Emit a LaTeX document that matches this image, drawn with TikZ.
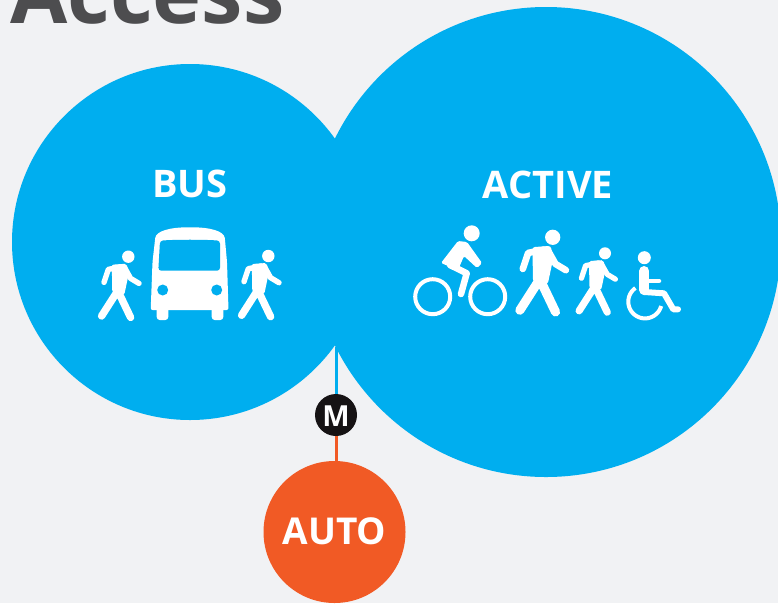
\documentclass[tikz,border=0pt]{standalone}
\usepackage{fontspec}
\setmainfont{Open Sans}
\definecolor{bgc}{HTML}{F1F2F4}
\definecolor{skyc}{HTML}{00AEEF}
\definecolor{autoc}{HTML}{F15A25}
\definecolor{titlec}{HTML}{4D4D4F}
\definecolor{metroc}{HTML}{161314}
\tikzset{
  disc/.style={circle,inner sep=0pt,outer sep=0pt,draw=none},
  label/.style={text=white,anchor=base,inner sep=0pt,font=\bfseries\fontsize{38}{38}\selectfont},
  icon/.style={draw=white,line cap=round,line join=round}
}
\newcommand{\walker}[3]{%
\begin{scope}[shift={(#1,#2)},scale=#3]
  \fill[white] (0,0) circle (6.2);
  \draw[icon,line width=#3*5.4pt] (-6.7,10) -- (-20,12.7) -- (-24.3,25.7);
  \draw[icon,line width=#3*5.4pt] (-3.3,11.7) -- (2.3,21.7) -- (10.7,26.7);
  \fill[white,rounded corners=#3*2pt] (-16.5,8) -- (-1.7,7) -- (0.5,16.7) -- (-4,38) -- (-16,36) -- cycle;
  \draw[icon,line width=#3*7.4pt] (-26.7,59.3) -- (-10.5,34) -- (2.3,60.7);
\end{scope}}
\begin{document}
\begin{tikzpicture}[x=1pt,y=-1pt]
  \useasboundingbox (0,0) rectangle (778,603);
  \clip (0,0) rectangle (778,603);
  \fill[bgc] (0,0) rectangle (778,603);
  \node[text=titlec,anchor=base west,inner sep=0pt,font=\bfseries\fontsize{83}{83}\selectfont] (title) at (10,23) {Access};

  \node[disc,fill=skyc,minimum size=356pt] (bus) at (190,242) {};
  \node[disc,fill=skyc,minimum size=470pt] (active) at (546,242) {};
  \coordinate (cusp) at (336,347);
  \node[disc,fill=metroc,minimum size=42pt] (metro) at (336,415) {};
  \node[disc,fill=autoc,minimum size=142pt] (auto) at (334.5,532) {};

  \draw[skyc,line width=3pt] (cusp) -- (metro.north);
  \draw[autoc,line width=3pt] (metro.south) -- (metro.south |- auto.north);

  \node[text=white,inner sep=0pt,font=\bfseries\fontsize{29}{29}\selectfont] (mlabel) at (336,416) {M};
  \node[label] (buslabel) at (190,197) {BUS};
  \node[label] (activelabel) at (548,198) {ACTIVE};
  \node[label,font=\bfseries\fontsize{37}{37}\selectfont] (autolabel) at (334.5,544) {AUTO};

  % bus icon
  \fill[white,rounded corners=2pt] (150.7,310) -- (152.5,262) -- (155,240) .. controls (156,231) and (170,227.3) .. (190,227.3) .. controls (210,227.3) and (224,231) .. (225,240) -- (227,262) -- (228.5,310) -- cycle;
  \fill[white,rounded corners=3pt] (156.7,305) rectangle (168.3,320);
  \fill[white,rounded corners=3pt] (211.7,305) rectangle (223.3,320);
  \fill[skyc,rounded corners=3pt] (158.3,270.7) -- (160,240.7) .. controls (175,239.5) and (205,239.5) .. (220,240.7) -- (220,270.7) -- cycle;
  \fill[skyc] (162.7,290) circle (5.5);
  \fill[skyc] (216.7,290) circle (5.5);

  \walker{128.3}{256.7}{1}
  \walker{268.3}{256}{1}
  \walker{552.7}{237.3}{1.23}
  \walker{605}{253.3}{0.97}

  % cyclist
  \fill[white] (471.7,233.3) circle (8);
  \draw[draw=white,line width=4pt] (432.7,296.7) circle (17.5);
  \draw[draw=white,line width=4pt] (487.7,296.7) circle (17.5);
  \fill[white,rounded corners=1.5pt] (441,263) -- (458,241) -- (467,242) -- (482,263) -- (477,268) -- (464,256) -- (458,270) -- cycle;
  \draw[icon,line width=6.5pt] (450,265) -- (466.7,273.3) -- (461,294);

  % wheelchair
  \fill[white] (644.3,257.7) circle (6.5);
  \draw[icon,line width=10pt] (644.3,271) -- (644.3,290);
  \draw[icon,line width=4.5pt] (648,281) -- (659,281);
  \draw[icon,line width=6pt] (644.3,292) -- (664,293.3) -- (673.3,309.3) -- (678,309.3);
  \draw[icon,line width=4pt,line cap=butt] plot[domain=125:345,samples=40] ({645+16.7*cos(\x)},{301.7-16.7*sin(\x)});
\end{tikzpicture}
\end{document}
